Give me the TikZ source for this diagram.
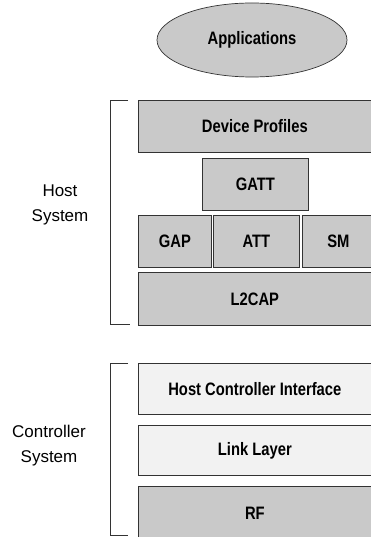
\documentclass[tikz,border=0pt]{standalone}
\usepackage{fontspec}
\setmainfont{Liberation Sans}
\newfontfamily\narrowfont{Liberation Sans}[FakeStretch=0.82]
\usetikzlibrary{shapes.geometric}
\tikzset{
  layer/.style={draw=black!80, line width=0.7pt, fill=#1, font=\narrowfont\bfseries\fontsize{18}{20}\selectfont, inner sep=0pt},
  layer/.default=gray!42,
  side/.style={font=\fontsize{17}{25}\selectfont, align=center},
  brk/.style={draw=black!80, line width=0.6pt}
}
\begin{document}
\begin{tikzpicture}[x=1pt,y=-1pt]
\useasboundingbox (0,0) rectangle (371,537);
\node[layer, ellipse, minimum width=190pt, minimum height=74pt] (app) at (252,40) {Applications};
\node[layer, minimum width=233pt, minimum height=52pt, anchor=north west] (dp) at (138,100) {Device Profiles};
\node[layer, minimum width=106pt, minimum height=52pt, anchor=north west] (gatt) at (202,158) {GATT};
\node[layer, minimum width=73pt, minimum height=52pt, anchor=north west] (gap) at (138,215) {GAP};
\node[layer, minimum width=86pt, minimum height=52pt, anchor=north west] (att) at (213,215) {ATT};
\node[layer, minimum width=72pt, minimum height=52pt, anchor=north west] (sm) at (302,215) {SM};
\node[layer, minimum width=233pt, minimum height=53pt, anchor=north west] (l2) at (138,272) {L2CAP};
\node[layer=gray!10, minimum width=233pt, minimum height=51pt, anchor=north west] (hci) at (138,363) {Host Controller Interface};
\node[layer=gray!10, minimum width=233pt, minimum height=50pt, anchor=north west] (ll) at (138,425) {Link Layer};
\node[layer, minimum width=233pt, minimum height=53pt, anchor=north west] (rf) at (138,486) {RF};
\coordinate (ht) at (128,100);
\coordinate (hb) at (130,324);
\draw[brk] (ht) -- (110,100) -- (110,324) -- (hb);
\coordinate (ct) at (128,363);
\coordinate (cb) at (128,535);
\draw[brk] (ct) -- (110,363) -- (110,535) -- (cb);
\node[side] (host) at (60,205) {Host\\System};
\node[side] (ctrl) at (49,446) {Controller\\System};
\end{tikzpicture}
\end{document}
